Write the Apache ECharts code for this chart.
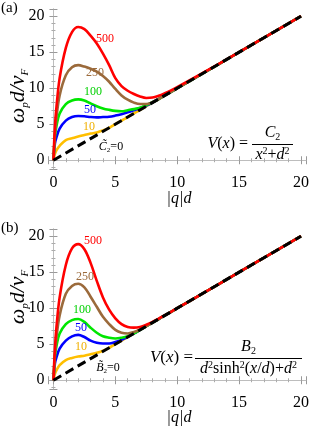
<!DOCTYPE html>
<html><head><meta charset="utf-8">
<script src="https://cdn.jsdelivr.net/npm/echarts@6/dist/echarts.min.js"></script>
<style>html,body{margin:0;padding:0;background:#fff}#c{width:312px;height:426px}
.pre{position:absolute;left:0;top:0;color:rgba(255,255,255,0);font-size:16px;font-family:'Liberation Serif';pointer-events:none;z-index:-1}</style>
</head><body>
<div class="pre">0123 (a) ω d/v <i>ω d/v |q|d V(x) C B sinh</i></div>
<div id="c"></div>
<script>
// ---- data ----
const xVals = [0,0.12,0.25,0.5,1,1.5,2,2.5,3,3.5,4,4.5,5,5.5,6,6.5,7,7.5,8,8.5,9,9.5,10,12,15,20];
const seriesNames = ['10','50','100','250','500'];
// panel (a): V(x) = C2/(x^2+d^2)
const aY10  = [0,0.9,1.4,2.0,2.8,3.05,3.3,3.5,3.7,3.85,4.15,4.5,5.02,5.5,6,6.5,7,7.5,8,8.5,9,9.5,10,12,15,20];
const aY50  = [0,2.35,3.2,4.4,5.5,6.0,6.15,6.1,6.0,5.95,6.0,6.05,6.2,6.4,6.65,6.95,7.25,7.6,8.02,8.5,9,9.5,10,12,15,20];
const aY100 = [0,3.3,4.8,6.5,7.8,8.3,8.45,8.3,7.9,7.5,7.2,7.0,6.85,6.8,6.95,7.1,7.3,7.65,8.05,8.5,9,9.5,10,12,15,20];
const aY250 = [0,3.5,6.0,9.0,11.8,12.9,13.2,13.0,12.7,12.3,11.7,10.9,9.9,9.0,8.4,8.0,7.8,7.8,8.05,8.5,9.0,9.5,10.0,12,15,20];
const aY500 = [0,4.7,7.5,11.4,15.6,17.8,18.5,18.2,17.3,16.2,14.8,13.2,11.4,10.3,9.65,9.2,8.85,8.65,8.7,8.95,9.3,9.7,10.15,12.05,15.02,20];
// panel (b): V(x) = B2/(d^2 sinh^2(x/d)+d^2)
const bY10  = [0,0.9,1.4,2.1,2.8,3.1,3.3,3.4,3.6,3.8,4.1,4.5,5,5.5,6,6.5,7,7.5,8,8.5,9,9.5,10,12,15,20];
const bY50  = [0,2.35,3.2,4.4,5.5,6.1,6.3,6.0,5.5,5.2,5.1,5.1,5.3,5.6,6.05,6.5,7,7.5,8,8.5,9,9.5,10,12,15,20];
const bY100 = [0,3.3,4.8,6.5,7.8,8.35,8.5,8.1,7.3,6.6,6.1,5.9,5.8,5.9,6.1,6.5,7,7.5,8,8.5,9,9.5,10,12,15,20];
const bY250 = [0,3.5,6,9,12,13.1,13.4,12.9,11.6,10.2,8.8,7.8,7.0,6.6,6.5,6.7,7.05,7.52,8.01,8.5,9,9.5,10,12,15,20];
const bY500 = [0,4.5,7.5,11.5,16,18.3,18.9,18.2,16.3,13.8,11.5,9.8,8.6,7.8,7.4,7.3,7.4,7.7,8.1,8.55,9.02,9.5,10,12,15,20];
// reference line (C2 = 0 / B2 = 0)
const refX = [0,20];
const refY = [0,20];
const xTicks = [0,5,10,15,20];
const yTicks = [0,5,10,15,20];

const colors = {'10':'#ffbf00','50':'#0000ff','100':'#00e600','250':'#9b6a3b','500':'#ff0000'};
const FONT = 'Liberation Serif';
const pair = (xs, ys) => xs.map((x,i)=>[x, ys[i]]);

function axesFor(g){
  const frame = {show:true, lineStyle:{color:'#bdbdbd', width:1}};
  const tick = {show:true, inside:true, length:4, lineStyle:{color:'#999'}};
  const minor = {show:true, splitNumber:5, length:2, lineStyle:{color:'#aaa'}};
  const xb = {gridIndex:g, type:'value', min:-0.4, max:20.4, splitNumber:4, axisLine:frame, axisTick:tick, minorTick:minor, splitLine:{show:false},
    axisLabel:{color:'#000', fontFamily:FONT, fontSize:16, margin:5, formatter:v=> xTicks.includes(v)?String(v):''}};
  const xt = Object.assign({}, xb, {position:'top', axisLabel:{show:false}});
  const yl = {gridIndex:g, type:'value', min:-1.3, max:21, splitNumber:4, axisLine:frame, axisTick:tick, minorTick:minor, splitLine:{show:false},
    axisLabel:{color:'#000', fontFamily:FONT, fontSize:16, margin:4, formatter:v=> yTicks.includes(v)?String(v):''}};
  const yr = Object.assign({}, yl, {position:'right', axisLabel:{show:false}});
  return {x:[xb, xt], y:[yl, yr]};
}

function seriesFor(g, arrs){
  const out = [];
  seriesNames.forEach((n,i)=>{
    out.push({type:'line', name:n, xAxisIndex:g*2, yAxisIndex:g*2, data:pair(xVals, arrs[i]), smooth:0.35,
      showSymbol:false, symbol:'none', lineStyle:{color:colors[n], width:2.6}, z:2+i, silent:true});
  });
  out.push({type:'line', xAxisIndex:g*2, yAxisIndex:g*2, data:pair(refX, refY), showSymbol:false, symbol:'none',
    lineStyle:{color:'#000', width:3, type:[9,5]}, z:10, silent:true});
  return out;
}

const lab = (text, x, y, color, size) => ({type:'text', x, y, style:{text, fill:color, fontFamily:FONT, fontSize:size||12, align:'center', verticalAlign:'middle'}, z:20});

function formulaRich(size){
  const s2 = Math.round(size*0.62);
  return {
    i:{fontFamily:FONT, fontStyle:'italic', fontSize:size, lineHeight:size+2, fill:'#000'},
    r:{fontFamily:FONT, fontSize:size, lineHeight:size+2, fill:'#000'},
    sp:{fontFamily:FONT, fontSize:s2, lineHeight:s2, verticalAlign:'top', fill:'#000'},
    sb:{fontFamily:FONT, fontSize:s2, lineHeight:s2, verticalAlign:'bottom', fill:'#000'}
  };
}

function draw(){
  const ax0 = axesFor(0), ax1 = axesFor(1);
  const graphics = [
    {type:'text', left:1, top:1, style:{text:'(a)', fontFamily:FONT, fontSize:15, fill:'#000'}},
    {type:'text', left:1, top:221, style:{text:'(b)', fontFamily:FONT, fontSize:15, fill:'#000'}},
    ...[96, 297].map(cy=>({type:'text', x:18, y:cy, rotation:Math.PI/2,
      style:{text:'{a|ω}{s|p}{a|d/v}{s|F}', align:'center', verticalAlign:'middle', fontFamily:FONT,
        rich:{a:{fontFamily:FONT, fontStyle:'italic', fontSize:22, lineHeight:26, fill:'#000'},
              s:{fontFamily:FONT, fontStyle:'italic', fontSize:11, lineHeight:12, verticalAlign:'bottom', fill:'#000'}}}})),
    ...[199, 418].map(cy=>({type:'text', x:179, y:cy, style:{text:'|q|d', fontFamily:FONT, fontStyle:'italic', fontSize:16, fill:'#000', align:'center', verticalAlign:'middle'}})),
    lab('500',105,39,colors['500']), lab('250',95,73,colors['250']), lab('100',93,92,'#00d000'),
    lab('50',90,110,colors['50']), lab('10',89,127,'#f0b000'),
    {type:'text', x:111, y:147, style:{text:'{i|C\u0303}{sb|2}{r|=0}', align:'center', verticalAlign:'middle', fontFamily:FONT, rich:formulaRich(12)}, z:20},
    lab('500',93,241,colors['500']), lab('250',85,277,colors['250']), lab('100',82,310,'#00d000'),
    lab('50',81,328,colors['50']), lab('10',81,347,'#f0b000'),
    {type:'text', x:108, y:368, style:{text:'{i|B\u0303}{sb|2}{r|=0}', align:'center', verticalAlign:'middle', fontFamily:FONT, rich:formulaRich(12)}, z:20},
    {type:'text', x:248, y:144, style:{text:'{i|V}{r|(}{i|x}{r|) =}', align:'right', verticalAlign:'middle', fontFamily:FONT, rich:formulaRich(16)}},
    {type:'text', x:272.5, y:142, style:{text:'{i|C}{sb|2}', align:'center', verticalAlign:'bottom', fontFamily:FONT, rich:formulaRich(16)}},
    {type:'line', shape:{x1:252, y1:144.5, x2:293, y2:144.5}, style:{stroke:'#000', lineWidth:1}},
    {type:'text', x:272.5, y:146, style:{text:'{i|x}{sp|2}{r|+}{i|d}{sp|2}', align:'center', verticalAlign:'top', fontFamily:FONT, rich:formulaRich(16)}},
    {type:'text', x:193, y:358, style:{text:'{i|V}{r|(}{i|x}{r|) =}', align:'right', verticalAlign:'middle', fontFamily:FONT, rich:formulaRich(17)}},
    {type:'text', x:248.5, y:356, style:{text:'{i|B}{sb|2}', align:'center', verticalAlign:'bottom', fontFamily:FONT, rich:formulaRich(16)}},
    {type:'line', shape:{x1:195, y1:358.5, x2:302, y2:358.5}, style:{stroke:'#000', lineWidth:1}},
    {type:'text', x:248.5, y:360, style:{text:'{i|d}{sp|2}{r|sinh}{sp|2}{r|(}{i|x}{r|/}{i|d}{r|)+}{i|d}{sp|2}', align:'center', verticalAlign:'top', fontFamily:FONT, rich:formulaRich(16)}}
  ];
  const chart = echarts.init(document.getElementById('c'), null, {renderer:'canvas'});
  chart.setOption({
    animation:false,
    backgroundColor:'#fff',
    textStyle:{fontFamily:FONT},
    grid:[
      {left:48.5, top:9, width:261, height:160.6},
      {left:48.5, top:229, width:261, height:160.6}
    ],
    xAxis:[...ax0.x, ...ax1.x.map(a=>Object.assign({}, a, {gridIndex:1}))],
    yAxis:[...ax0.y, ...ax1.y.map(a=>Object.assign({}, a, {gridIndex:1}))],
    series:[...seriesFor(0,[aY10,aY50,aY100,aY250,aY500]), ...seriesFor(1,[bY10,bY50,bY100,bY250,bY500])],
    graphic:graphics
  });
}
let done = false;
const go = () => { if (!done) { done = true; draw(); } };
Promise.all([
  document.fonts.load('16px "Liberation Serif"'),
  document.fonts.load('italic 16px "Liberation Serif"')
]).then(go, go);
setTimeout(go, 300);
</script></body></html>
